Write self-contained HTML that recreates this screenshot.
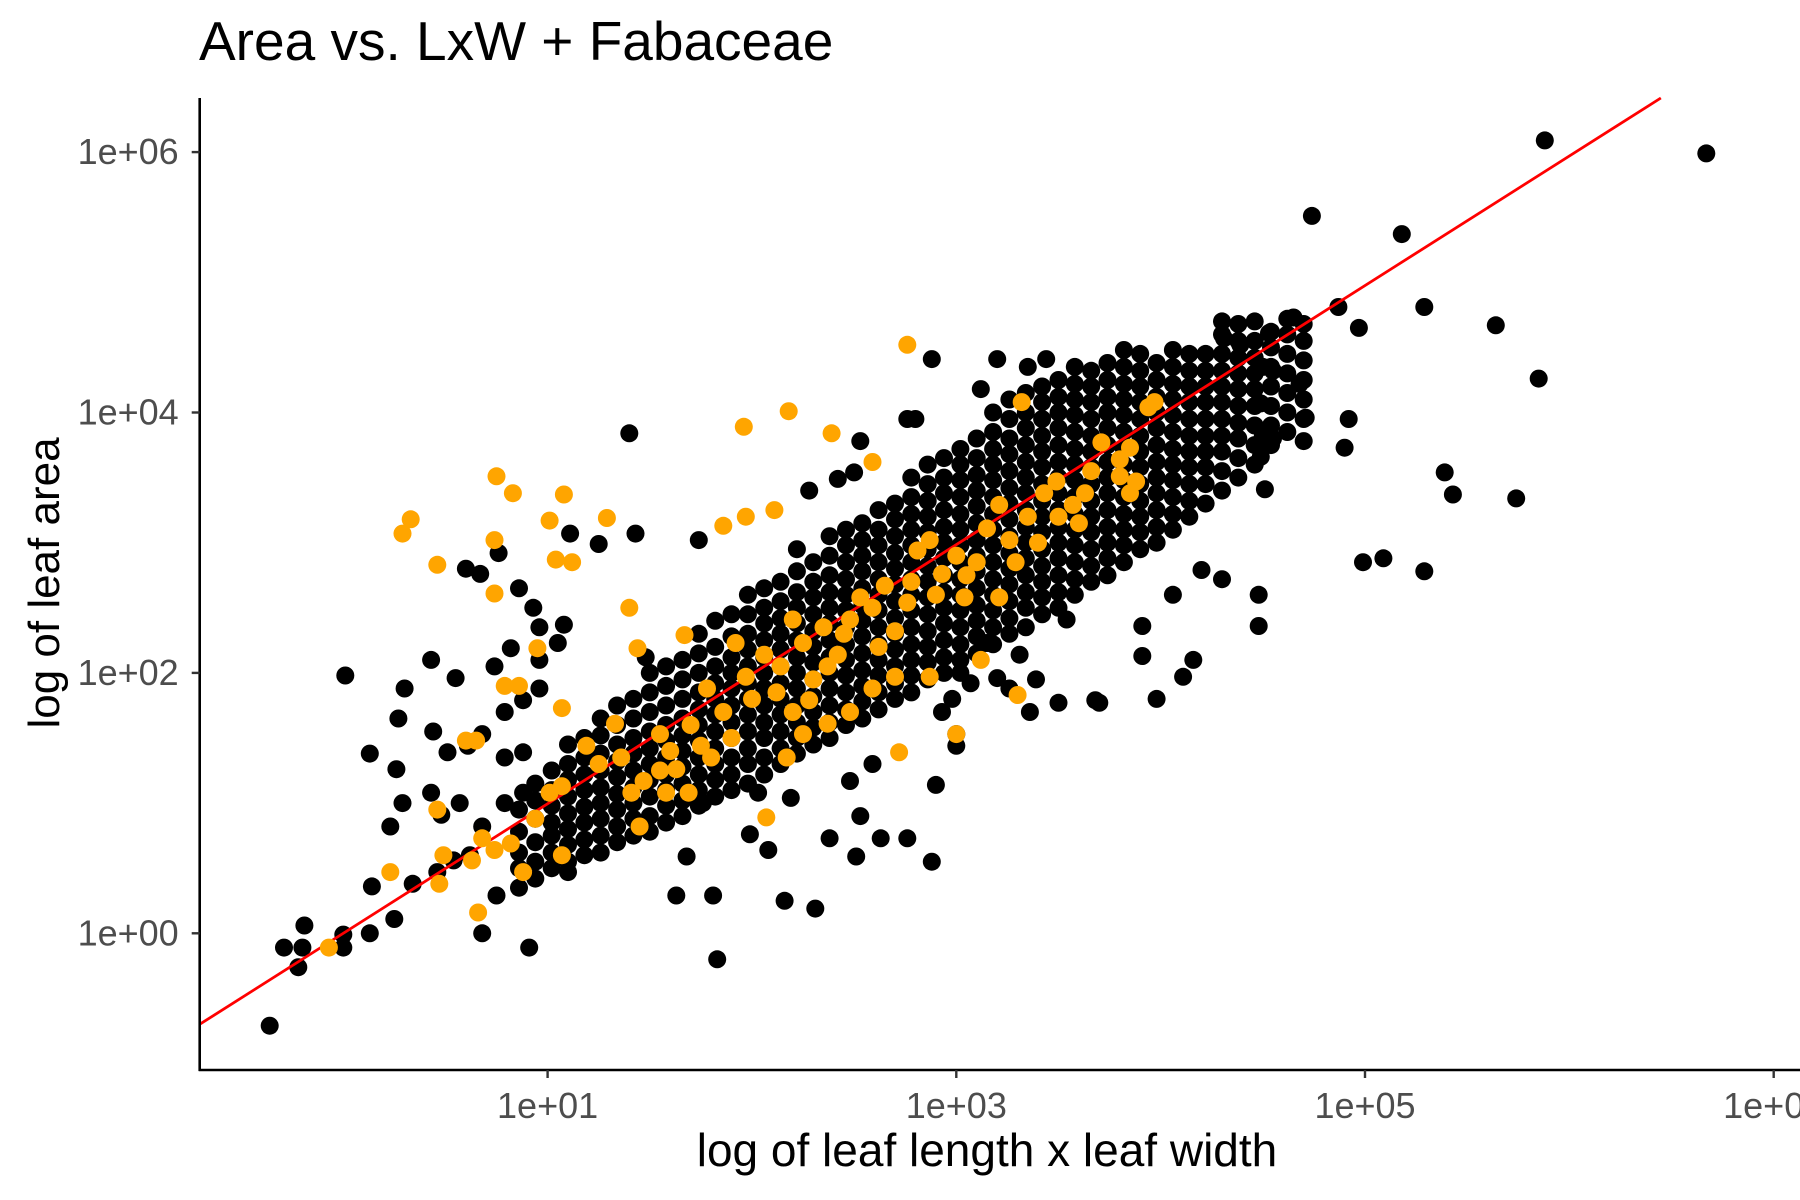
<!DOCTYPE html>
<html><head><meta charset="utf-8"><style>
html,body{margin:0;padding:0;background:#fff;}
svg{display:block;font-family:"Liberation Sans",Arial,sans-serif;}
</style></head><body>
<svg id="chart" width="1800" height="1200" viewBox="0 0 1800 1200">
<text x="199" y="60" font-size="55" fill="#000">Area vs. LxW + Fabaceae</text>
<g id="plot"></g>
<g id="axes"></g>
<text x="987" y="1166" font-size="46" text-anchor="middle" fill="#000">log of leaf length x leaf width</text>
<text transform="translate(59,583) rotate(-90)" font-size="44" text-anchor="middle" fill="#000">log of leaf area</text>
</svg>
<script>
// values are log10 of the data
const xTicks=[1,3,5,7];
const xTickLabels=["1e+01","1e+03","1e+05","1e+07"];
const yTicks=[0,2,4,6];
const yTickLabels=["1e+00","1e+02","1e+04","1e+06"];
const fitSlope=0.995;
const fitIntercept=0.0;
const bandCols=[
[0.86,[0.35,0.5,0.62,0.78,0.95]],
[0.94,[0.42,0.55,0.7,0.88,1.02,1.15]],
[1.02,[0.5,0.62,0.75,0.85,0.98,1.1,1.25]],
[1.1,[0.55,0.68,0.8,0.92,1.05,1.18,1.3,1.45]],
[1.18,[0.6,0.72,0.85,0.97,1.1,1.22,1.35,1.5]],
[1.26,[0.62,0.75,0.88,1.0,1.12,1.25,1.38,1.52,1.65]],
[1.34,[0.7,0.82,0.95,1.07,1.2,1.32,1.45,1.6,1.75]],
[1.42,[0.75,0.88,1.0,1.12,1.25,1.38,1.5,1.65,1.8]],
[1.5,[0.78,0.9,1.05,1.18,1.3,1.42,1.55,1.7,1.85,2.0]],
[1.58,[0.85,0.98,1.1,1.22,1.35,1.48,1.6,1.75,1.9,2.05]],
[1.66,[0.9,1.02,1.15,1.28,1.4,1.52,1.65,1.8,1.95,2.1]],
[1.74,[0.98,1.1,1.22,1.35,1.48,1.6,1.72,1.85,2.0,2.15,2.3]],
[1.82,[1.05,1.18,1.3,1.42,1.55,1.68,1.8,1.92,2.05,2.2,2.4]],
[1.9,[1.1,1.22,1.35,1.5,1.62,1.75,1.88,2.0,2.12,2.28,2.45]],
[1.98,[1.15,1.3,1.42,1.55,1.68,1.8,1.92,2.05,2.18,2.3,2.45,2.6]],
[2.06,[1.22,1.35,1.5,1.62,1.75,1.88,2.0,2.12,2.25,2.38,2.5,2.65]],
[2.14,[1.3,1.42,1.55,1.68,1.8,1.92,2.05,2.18,2.3,2.42,2.55,2.7]],
[2.22,[1.38,1.5,1.62,1.75,1.88,2.0,2.12,2.25,2.38,2.5,2.62,2.78,2.95]],
[2.3,[1.45,1.58,1.7,1.82,1.95,2.08,2.2,2.32,2.45,2.58,2.7,2.85]],
[2.38,[1.5,1.62,1.75,1.88,2.0,2.12,2.25,2.38,2.5,2.62,2.75,2.9,3.05]],
[2.46,[1.6,1.72,1.85,1.98,2.1,2.22,2.35,2.48,2.6,2.72,2.85,2.98,3.1]],
[2.54,[1.65,1.78,1.9,2.02,2.15,2.28,2.4,2.52,2.65,2.78,2.9,3.02,3.15]],
[2.62,[1.72,1.85,1.98,2.1,2.22,2.35,2.48,2.6,2.72,2.85,2.98,3.1,3.25]],
[2.7,[1.8,1.92,2.05,2.18,2.3,2.42,2.55,2.68,2.8,2.92,3.05,3.18,3.3]],
[2.78,[1.85,1.98,2.1,2.22,2.35,2.48,2.6,2.72,2.85,2.98,3.1,3.22,3.35,3.5]],
[2.86,[1.95,2.08,2.2,2.32,2.45,2.58,2.7,2.82,2.95,3.08,3.2,3.32,3.45,3.6]],
[2.94,[2.0,2.12,2.25,2.38,2.5,2.62,2.75,2.88,3.0,3.12,3.25,3.38,3.5,3.65]],
[3.02,[2.1,2.22,2.35,2.48,2.6,2.72,2.85,2.98,3.1,3.22,3.35,3.48,3.6,3.72]],
[3.1,[2.15,2.28,2.4,2.52,2.65,2.78,2.9,3.02,3.15,3.28,3.4,3.52,3.65,3.8]],
[3.18,[2.22,2.35,2.48,2.6,2.72,2.85,2.98,3.1,3.22,3.35,3.48,3.6,3.72,3.85,4.0]],
[3.26,[2.3,2.42,2.55,2.68,2.8,2.92,3.05,3.18,3.3,3.42,3.55,3.68,3.8,3.95,4.1]],
[3.34,[2.35,2.5,2.62,2.75,2.88,3.0,3.12,3.25,3.38,3.5,3.62,3.75,3.88,4.0,4.15]],
[3.42,[2.45,2.58,2.7,2.82,2.95,3.08,3.2,3.32,3.45,3.58,3.7,3.82,3.95,4.08,4.2]],
[3.5,[2.5,2.62,2.75,2.88,3.0,3.12,3.25,3.38,3.5,3.62,3.75,3.88,4.0,4.12,4.25]],
[3.58,[2.6,2.72,2.85,2.98,3.1,3.22,3.35,3.48,3.6,3.72,3.85,3.98,4.1,4.22,4.35]],
[3.66,[2.7,2.82,2.95,3.08,3.2,3.32,3.45,3.58,3.7,3.82,3.95,4.08,4.2,4.32]],
[3.74,[2.75,2.88,3.0,3.12,3.25,3.38,3.5,3.62,3.75,3.88,4.0,4.12,4.25,4.38]],
[3.82,[2.85,2.98,3.1,3.22,3.35,3.48,3.6,3.72,3.85,3.98,4.1,4.22,4.35,4.48]],
[3.9,[2.95,3.08,3.2,3.32,3.45,3.58,3.7,3.82,3.95,4.08,4.2,4.32,4.45]],
[3.98,[3.0,3.12,3.25,3.38,3.5,3.62,3.75,3.88,4.0,4.12,4.25,4.38]],
[4.06,[3.1,3.22,3.35,3.48,3.6,3.72,3.85,3.98,4.1,4.22,4.35,4.48]],
[4.14,[3.2,3.32,3.45,3.58,3.7,3.82,3.95,4.08,4.2,4.32,4.45]],
[4.22,[3.3,3.45,3.58,3.7,3.82,3.95,4.08,4.2,4.32,4.45]],
[4.3,[3.4,3.55,3.7,3.82,3.95,4.08,4.2,4.32,4.45,4.6]],
[4.38,[3.5,3.65,3.8,3.92,4.05,4.18,4.3,4.42,4.55,4.68]],
[4.46,[3.6,3.75,3.9,4.05,4.18,4.3,4.42,4.55,4.7]],
[4.54,[3.75,3.9,4.05,4.2,4.35,4.5,4.62]],
[4.62,[3.85,4.0,4.15,4.3,4.45,4.6,4.72]],
[4.7,[3.95,4.1,4.25,4.4,4.55,4.68]]
];
const blackOutliers=[[-0.36,-0.71],[-0.29,-0.11],[-0.2,-0.11],[-0.22,-0.26],[-0.19,0.06],[0,-0.01],[0,-0.11],[0.13,0],[0.14,0.36],[0.01,1.98],[0.25,0.11],[0.27,1.65],[0.3,1.88],[0.13,1.38],[0.26,1.26],[0.43,2.1],[0.44,1.55],[0.55,1.96],[0.6,2.8],[0.67,2.76],[0.76,2.92],[0.86,2.65],[0.93,2.5],[0.96,2.35],[1.05,2.23],[1.08,2.37],[1.11,3.07],[1.25,2.99],[1.4,3.84],[1.43,3.07],[1.48,2.12],[1.74,3.02],[1.8,1.88],[1.63,0.29],[1.81,0.29],[1.83,-0.2],[2.16,0.25],[2.31,0.19],[2.38,0.73],[2.51,0.59],[2.63,0.73],[2.76,0.73],[2.88,0.55],[2.9,1.14],[2.53,0.9],[0.68,0],[0.91,-0.11],[0.75,0.29],[1.1,0.47],[1.68,0.59],[1.76,1.0],[2.03,1.08],[2.19,1.04],[2.48,1.17],[2.59,1.3],[3.0,1.44],[3.0,1.53],[3.15,2.23],[3.31,2.14],[3.39,1.95],[3.36,1.7],[3.5,1.77],[3.7,1.77],[3.98,1.8],[3.91,2.13],[4.06,2.6],[4.2,2.79],[4.3,2.72],[4.48,2.36],[4.48,2.6],[4.51,3.41],[4.7,3.78],[4.71,3.96],[4.9,3.73],[4.92,3.95],[4.99,2.85],[5.09,2.88],[5.29,2.78],[5.39,3.54],[5.43,3.37],[5.74,3.34],[4.97,4.65],[4.74,5.51],[5.18,5.37],[5.29,4.81],[5.64,4.67],[5.85,4.26],[5.88,6.09],[6.67,5.99],[4.87,4.81],[4.65,4.73],[4.5,4.35],[4.55,4.32],[4.68,4.22],[4.49,4.07],[4.5,3.82],[4.55,3.8],[4.31,4.57],[4.39,4.52],[4.53,4.61],[4.3,4.7],[4.49,3.66],[2.76,3.95],[2.8,3.95],[2.88,4.41],[3.12,4.18],[3.2,4.41],[3.35,4.35],[3.44,4.41],[2.53,3.78],[2.5,3.54],[2.42,3.49],[2.28,3.4],[2.93,1.7],[2.98,1.8],[3.02,2.0],[3.07,1.92],[3.54,2.41],[3.68,1.79],[3.91,2.36],[4.11,1.97],[4.16,2.1],[3.26,1.88],[3.2,1.96],[1.99,0.76],[2.08,0.64],[0.34,0.38],[0.46,0.47],[0.54,0.56],[0.62,0.6],[0.43,1.08],[0.48,0.91],[0.57,1.0],[0.68,0.82],[0.79,1.0],[0.88,1.08],[0.79,1.35],[0.88,1.39],[0.29,1.0],[0.23,0.82],[0.61,1.44],[0.51,1.39],[0.68,1.53],[0.79,1.7],[0.88,1.79],[0.96,1.88],[0.74,2.05],[0.82,2.19],[0.96,2.1]];
const orangePts=[[-0.07,-0.11],[0.23,0.47],[0.47,0.38],[0.49,0.6],[0.46,0.95],[0.66,0.16],[0.63,0.56],[0.68,0.73],[0.74,0.64],[0.82,0.69],[0.88,0.47],[0.94,0.88],[1.07,0.6],[1.01,1.08],[1.07,1.13],[1.19,1.44],[1.33,1.61],[1.36,1.35],[1.41,1.08],[1.47,1.17],[1.55,1.53],[1.58,1.08],[1.63,1.26],[1.69,1.08],[1.75,1.44],[1.8,1.35],[1.86,1.7],[1.78,1.88],[1.92,2.23],[1.97,1.97],[2.06,2.14],[2.14,2.05],[2.2,1.7],[2.25,2.23],[2.2,2.41],[2.28,1.79],[2.37,2.05],[2.42,2.14],[2.48,2.41],[2.53,2.58],[2.59,2.5],[2.65,2.67],[2.7,2.32],[2.76,2.54],[2.81,2.94],[2.87,3.02],[2.93,2.76],[3.04,2.58],[3.1,2.85],[3.15,3.11],[3.21,3.29],[3.26,3.02],[3.35,3.2],[3.43,3.38],[3.49,3.47],[3.57,3.29],[3.66,3.55],[3.71,3.77],[3.8,3.64],[3.85,3.73],[3.97,4.08],[3.88,3.47],[3.32,4.08],[3.29,2.85],[3.21,2.58],[2.87,1.97],[2.7,1.97],[2.59,1.88],[2.48,1.7],[2.37,1.61],[2.25,1.53],[2.17,1.35],[2.72,1.39],[3.0,1.53],[3.12,2.1],[3.3,1.83],[2.07,0.89],[1.86,3.13],[1.97,3.2],[2.11,3.25],[0.29,3.07],[0.33,3.18],[0.46,2.83],[0.75,3.51],[0.83,3.38],[0.74,3.02],[0.74,2.61],[0.79,1.9],[0.86,1.9],[0.95,2.19],[1.01,3.17],[1.08,3.37],[1.04,2.87],[1.12,2.85],[1.29,3.19],[1.07,1.73],[1.96,3.89],[2.18,4.01],[2.39,3.84],[2.76,4.52],[2.59,3.62],[1.4,2.5],[1.44,2.19],[1.67,2.29],[0.6,1.48],[0.65,1.48],[1.45,0.82],[3.94,4.04],[3.8,3.51],[3.85,3.38],[3.63,3.38],[1.25,1.3],[1.6,1.4],[1.9,1.5],[2.0,1.8],[2.3,1.95],[2.45,2.3],[2.62,2.2],[2.9,2.6],[3.0,2.9],[3.05,2.75],[3.4,3.0],[3.5,3.2],[2.35,2.35],[1.55,1.25],[1.7,1.6],[2.12,1.85],[2.78,2.7],[3.6,3.15]];

const NS="http://www.w3.org/2000/svg";
const xLeft=199.7,xRight=1800,yTop=98,yBottom=1070;
function xScale(v){return 547.6+(v-1)*204.35;}
function yScale(v){return 933.3-v*130.2;}
const plot=document.getElementById('plot');
const axes=document.getElementById('axes');
function dot(x,y,fill,name){
  const c=document.createElementNS(NS,'circle');
  c.setAttribute('cx',xScale(x).toFixed(1));
  c.setAttribute('cy',yScale(y).toFixed(1));
  c.setAttribute('r',9);
  c.setAttribute('fill',fill);
  
  
  plot.appendChild(c);
}
bandCols.forEach(col=>{col[1].forEach(y=>dot(col[0],y,'#000','point-other'));});
blackOutliers.forEach(p=>dot(p[0],p[1],'#000','point-other'));
// fit line
const lx0=-0.7, lyTop=(933.3-yTop)/130.2, lx1=(lyTop-fitIntercept)/fitSlope;
const ln=document.createElementNS(NS,'line');
ln.setAttribute('x1',xScale(lx0));ln.setAttribute('y1',yScale(fitSlope*lx0+fitIntercept));
ln.setAttribute('x2',xScale(lx1));ln.setAttribute('y2',yScale(fitSlope*lx1+fitIntercept));
ln.setAttribute('stroke','#ff0000');ln.setAttribute('stroke-width','2.8');


plot.appendChild(ln);
orangePts.forEach(p=>dot(p[0],p[1],'#ffa500','point-fabaceae'));
// axes
function line(x1,y1,x2,y2,w,col,name){
  const l=document.createElementNS(NS,'line');
  l.setAttribute('x1',x1);l.setAttribute('y1',y1);l.setAttribute('x2',x2);l.setAttribute('y2',y2);
  l.setAttribute('stroke',col);l.setAttribute('stroke-width',w);
  
  
  axes.appendChild(l);
}
line(xLeft,yTop,xLeft,yBottom+1,2.6,'#000','y-axis-line');
line(xLeft-1,yBottom,xRight,yBottom,2.6,'#000','x-axis-line');
xTicks.forEach((t,i)=>{
  const x=xScale(t);
  line(x,yBottom,x,yBottom+8,2.4,'#333','x-tick');
  const tx=document.createElementNS(NS,'text');
  tx.setAttribute('x',x);tx.setAttribute('y',1118);tx.setAttribute('font-size','36');
  tx.setAttribute('text-anchor','middle');tx.setAttribute('fill','#4d4d4d');
  tx.textContent=xTickLabels[i];
  
  
  axes.appendChild(tx);
});
yTicks.forEach((t,i)=>{
  const y=yScale(t);
  line(xLeft-8,y,xLeft,y,2.4,'#333','y-tick');
  const tx=document.createElementNS(NS,'text');
  tx.setAttribute('x',xLeft-21);tx.setAttribute('y',y+12);tx.setAttribute('font-size','36');
  tx.setAttribute('text-anchor','end');tx.setAttribute('fill','#4d4d4d');
  tx.textContent=yTickLabels[i];
  
  
  axes.appendChild(tx);
});
</script>
</body></html>
